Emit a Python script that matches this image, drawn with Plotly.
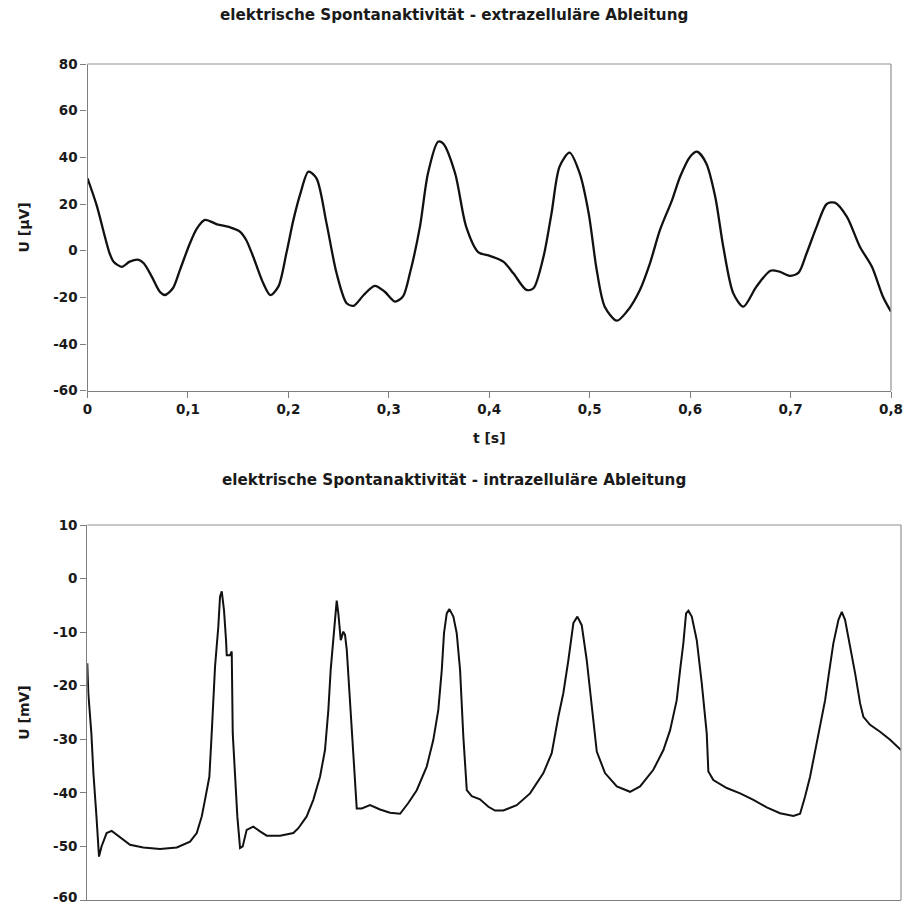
import plotly.graph_objects as go

# ---------------- data ----------------
title_top = "elektrische Spontanaktivität - extrazelluläre Ableitung"
title_bot = "elektrische Spontanaktivität - intrazelluläre Ableitung"
x_title = "t [s]"
y_title_top = "U [µV]"
y_title_bot = "U [mV]"

x_tickvals = [0, 0.1, 0.2, 0.3, 0.4, 0.5, 0.6, 0.7, 0.8]
x_ticktext = ["0", "0,1", "0,2", "0,3", "0,4", "0,5", "0,6", "0,7", "0,8"]
y_top_ticks = [-60, -40, -20, 0, 20, 40, 60, 80]
y_bot_ticks = [-60, -50, -40, -30, -20, -10, 0, 10]

# extracellular recording (µV)
t_ext = [0.000, 0.009, 0.022, 0.026, 0.034, 0.042, 0.051, 0.056, 0.064, 0.072,
         0.077, 0.085, 0.092, 0.102, 0.109, 0.117, 0.129, 0.142, 0.152, 0.158,
         0.165, 0.175, 0.182, 0.190, 0.198, 0.205, 0.212, 0.220, 0.228, 0.238,
         0.248, 0.258, 0.265, 0.275, 0.286, 0.296, 0.306, 0.314, 0.321, 0.331,
         0.339, 0.349, 0.354, 0.366, 0.377, 0.389, 0.401, 0.414, 0.424, 0.437,
         0.444, 0.454, 0.462, 0.470, 0.480, 0.490, 0.499, 0.507, 0.515, 0.527,
         0.537, 0.550, 0.560, 0.570, 0.582, 0.590, 0.600, 0.607, 0.616, 0.625,
         0.633, 0.643, 0.653, 0.666, 0.680, 0.689, 0.699, 0.708, 0.716, 0.726,
         0.736, 0.744, 0.756, 0.769, 0.781, 0.792, 0.800]
u_ext = [31.0, 19.6, -1.1, -4.7, -6.9, -4.7, -3.9, -5.4, -11.1, -17.6,
         -19.0, -16.1, -8.3, 3.2, 9.6, 13.2, 11.3, 10.0, 8.1, 4.6,
         -2.6, -14.0, -19.0, -15.4, -1.1, 13.2, 24.6, 33.9, 31.0, 11.7,
         -9.7, -22.5, -23.6, -19.0, -15.1, -17.6, -21.8, -19.7, -9.7, 10.3,
         33.2, 46.7, 46.0, 33.2, 10.3, -0.6, -2.3, -4.7, -9.7, -16.8,
         -16.1, -2.6, 16.0, 36.0, 42.0, 33.2, 16.0, -8.3, -24.0, -30.0,
         -26.1, -16.8, -5.4, 8.9, 21.7, 31.7, 40.3, 42.4, 37.5, 23.1,
         1.7, -18.3, -24.0, -15.4, -8.6, -9.0, -10.8, -9.4, -1.1, 10.3,
         20.0, 20.6, 14.6, 1.7, -6.9, -19.7, -26.1]

# intracellular recording (mV)
t_int = [0.0000, 0.0010, 0.0040, 0.0060, 0.0090, 0.0115, 0.0140, 0.0190, 0.0240, 0.0320,
         0.0420, 0.0550, 0.0715, 0.0880, 0.1010, 0.1076, 0.1125, 0.1157, 0.1200, 0.1223,
         0.1256, 0.1288, 0.1305, 0.1322, 0.1344, 0.1364, 0.1371, 0.1403, 0.1420, 0.1430,
         0.1452, 0.1475, 0.1502, 0.1528, 0.1567, 0.1632, 0.1698, 0.1764, 0.1895, 0.2026,
         0.2075, 0.2157, 0.2222, 0.2288, 0.2337, 0.2370, 0.2393, 0.2413, 0.2436, 0.2452,
         0.2468, 0.2492, 0.2517, 0.2534, 0.2551, 0.2583, 0.2616, 0.2649, 0.2698, 0.2780,
         0.2878, 0.2976, 0.3075, 0.3156, 0.3239, 0.3337, 0.3402, 0.3451, 0.3485, 0.3507,
         0.3534, 0.3560, 0.3599, 0.3632, 0.3665, 0.3697, 0.3731, 0.3780, 0.3861, 0.3943,
         0.4009, 0.4090, 0.4222, 0.4353, 0.4484, 0.4566, 0.4631, 0.4680, 0.4730, 0.4779,
         0.4818, 0.4861, 0.4910, 0.4975, 0.5009, 0.5090, 0.5206, 0.5336, 0.5435, 0.5565,
         0.5664, 0.5730, 0.5795, 0.5828, 0.5860, 0.5887, 0.5910, 0.5943, 0.5992, 0.6041,
         0.6090, 0.6106, 0.6155, 0.6287, 0.6418, 0.6549, 0.6680, 0.6811, 0.6942, 0.7008,
         0.7057, 0.7106, 0.7156, 0.7205, 0.7254, 0.7296, 0.7335, 0.7385, 0.7418, 0.7450,
         0.7500, 0.7549, 0.7598, 0.7630, 0.7696, 0.7794, 0.7893, 0.8000]
u_int = [-15.8, -21.4, -28.9, -36.3, -44.4, -51.9, -50.0, -47.5, -47.1, -48.2,
         -49.7, -50.2, -50.5, -50.2, -49.1, -47.5, -44.4, -41.3, -37.0, -28.9,
         -16.4, -9.0, -3.4, -2.4, -5.9, -11.5, -14.3, -14.3, -13.6, -28.9,
         -37.0, -44.4, -50.3, -50.0, -46.9, -46.3, -47.2, -48.0, -48.0, -47.5,
         -46.6, -44.4, -41.3, -37.0, -32.0, -24.5, -17.0, -12.7, -7.1, -4.1,
         -6.5, -11.5, -9.9, -10.5, -13.3, -23.3, -34.5, -42.9, -42.9, -42.3,
         -43.1, -43.7, -43.9, -41.9, -39.5, -35.1, -30.1, -24.5, -17.1, -10.2,
         -6.5, -5.7, -7.1, -10.2, -17.1, -29.5, -39.5, -40.6, -41.2, -42.6,
         -43.3, -43.3, -42.3, -40.1, -36.3, -32.6, -25.8, -21.4, -15.2, -8.3,
         -7.1, -8.7, -15.2, -25.8, -32.3, -36.3, -38.8, -39.8, -38.8, -35.7,
         -32.0, -28.3, -22.7, -17.1, -12.1, -6.5, -6.0, -7.1, -11.5, -19.5,
         -28.9, -36.0, -37.6, -39.1, -40.1, -41.3, -42.7, -43.8, -44.3, -43.9,
         -40.7, -37.0, -32.0, -27.0, -22.7, -17.1, -12.1, -7.7, -6.2, -7.7,
         -12.7, -17.7, -23.3, -25.8, -27.3, -28.6, -30.1, -32.0]

# ---------------- figure ----------------
W = H = 906
FONT = "DejaVu Sans, Verdana, sans-serif"
TXT = "#1a1a1a"
AXC = "#7f7f7f"


def px_x(p):
    return p / W


def px_y(p):
    return 1 - p / H


# plot areas in pixels
top_l, top_r, top_t, top_b = 87.5, 891, 64, 390.7
bot_l, bot_r, bot_t, bot_b = 87.3, 901, 525, 900

fig = go.Figure()
fig.add_trace(go.Scatter(x=t_ext, y=u_ext, mode="lines",
                         line=dict(color="#111111", width=2.3, shape="spline", smoothing=0.8),
                         xaxis="x", yaxis="y", hoverinfo="skip"))
fig.add_trace(go.Scatter(x=t_int, y=u_int, mode="lines",
                         line=dict(color="#111111", width=2.0),
                         xaxis="x2", yaxis="y2", hoverinfo="skip"))

tickfont = dict(family=FONT, size=13.5, color=TXT)
titlefont = dict(family=FONT, size=14, color=TXT)
common_axis = dict(showgrid=False, zeroline=False, showline=True, linecolor=AXC,
                   linewidth=1.3, tickcolor=AXC, tickwidth=1.3, tickfont=tickfont,
                   automargin=False, ticklabeloverflow="allow")

# bottom axis: the lowest label sits at the page edge, so it is drawn separately
bot_ticktext = ["" if v == y_bot_ticks[0] else "<b>%d</b>" % v for v in y_bot_ticks]

fig.update_layout(
    width=W, height=H,
    margin=dict(l=0, r=0, t=0, b=0),
    paper_bgcolor="white", plot_bgcolor="white",
    showlegend=False,
    xaxis=dict(domain=[px_x(top_l), px_x(top_r)], range=[0, 0.8], anchor="y",
               tickvals=x_tickvals, ticktext=["<b>%s</b>" % s for s in x_ticktext],
               ticks="outside", ticklen=6,
               title=dict(text="<b>" + x_title + "</b>", font=titlefont, standoff=17),
               **common_axis),
    yaxis=dict(domain=[px_y(top_b), px_y(top_t)], range=[-60, 80], anchor="x",
               tickvals=y_top_ticks, ticktext=["<b>%d</b>" % v for v in y_top_ticks],
               ticks="outside", ticklen=6,
               title=dict(text="<b>" + y_title_top + "</b>", font=titlefont, standoff=20),
               **common_axis),
    xaxis2=dict(domain=[px_x(bot_l), px_x(bot_r)], range=[0, 0.8], anchor="y2",
                showticklabels=False, ticks="",
                **common_axis),
    yaxis2=dict(domain=[px_y(bot_b), px_y(bot_t)], range=[-60, 10], anchor="x2",
                tickvals=y_bot_ticks, ticktext=bot_ticktext,
                ticks="outside", ticklen=6,
                title=dict(text="<b>" + y_title_bot + "</b>", font=titlefont, standoff=20),
                **common_axis),
)

# lowest tick label of the bottom chart, nudged to stay inside the page
fig.add_annotation(text="<b>%d</b>" % y_bot_ticks[0], xref="paper", yref="paper",
                   x=px_x(bot_l - 8), y=px_y(897), xanchor="right", yanchor="middle",
                   showarrow=False, font=tickfont)

# light plot-area frame (top and right edges)
for xd, yd in [("x domain", "y domain"), ("x2 domain", "y2 domain")]:
    fig.add_shape(type="line", xref=xd, yref=yd, x0=0, x1=1, y0=1, y1=1,
                  line=dict(color="#b4b4b4", width=1.3))
    fig.add_shape(type="line", xref=xd, yref=yd, x0=1, x1=1, y0=0, y1=1,
                  line=dict(color="#9a9a9a", width=1.3))

# titles
fig.add_annotation(text="<b>" + title_top + "</b>", xref="paper", yref="paper",
                   x=px_x(454), y=px_y(15), xanchor="center", yanchor="middle",
                   showarrow=False, font=dict(family=FONT, size=15.2, color=TXT))
fig.add_annotation(text="<b>" + title_bot + "</b>", xref="paper", yref="paper",
                   x=px_x(454), y=px_y(480), xanchor="center", yanchor="middle",
                   showarrow=False, font=dict(family=FONT, size=15.2, color=TXT))

fig.write_html("out.html")
